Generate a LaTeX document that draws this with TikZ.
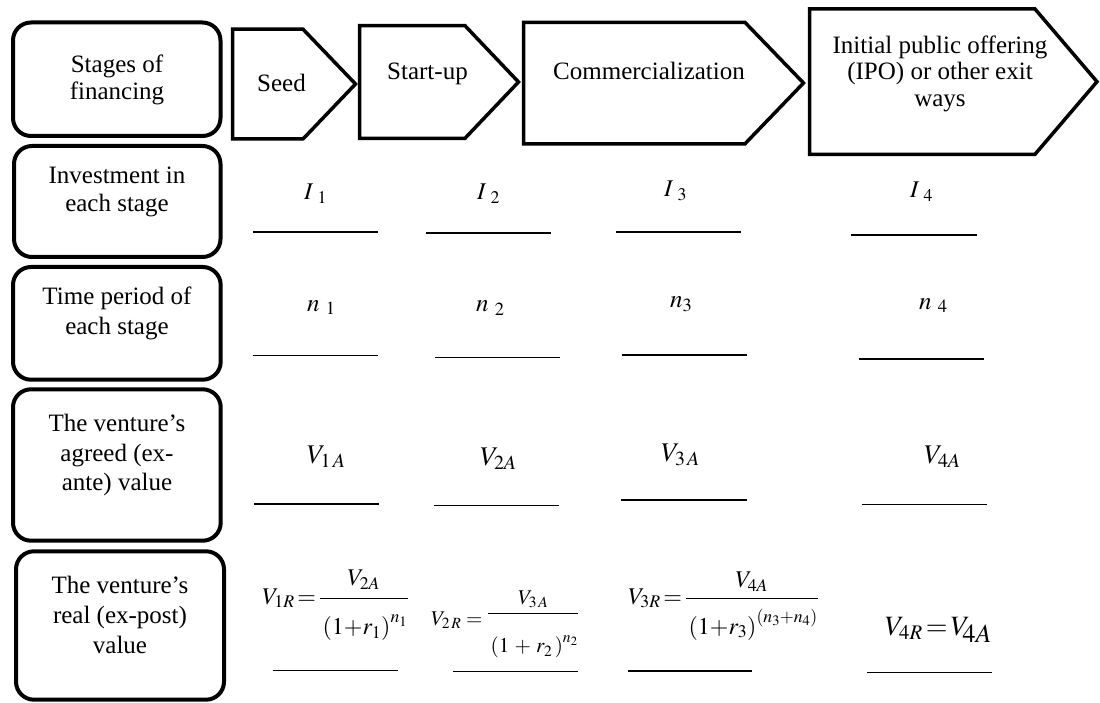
\documentclass[tikz,border=0pt]{standalone}
\usepackage{mathptmx}
\usepackage{fontspec}
\setmainfont{Liberation Serif}
\newcommand{\mlines}[3]{{\fontsize{#1}{#2}\selectfont\begin{tabular}[t]{@{}c@{}}#3\end{tabular}}}
\newcommand{\fsz}[1]{\fontsize{#1}{#1}\selectfont}
\newcommand{\bpar}[2]{\left(\vcenter to #1{}#2\right)}
\begin{document}
\begin{tikzpicture}[x=1pt,y=-1pt,
  lbox/.style={line width=4pt, rounded corners=18pt},
  stagearrow/.style={line width=3.5pt, line join=miter},
  uline/.style={line width=1.3pt},
  lab/.style={inner sep=0pt, anchor=base},
  stxt/.style={inner sep=0pt, anchor=base west, font=\fsz{25}},
  mth/.style={inner sep=0pt, anchor=base west}]
\useasboundingbox (0,0) rectangle (1100,703);

% left rounded boxes
\draw[lbox] (13,22.5) rectangle (220.5,136);
\draw[lbox] (14,146) rectangle (220.5,257);
\draw[lbox] (13,267) rectangle (220.7,379.7);
\draw[lbox] (13,389.3) rectangle (220.7,540.7);
\draw[lbox] (16,551.3) rectangle (224,699.7);

\node[lab] (lab1) at (117,72.7) {\mlines{25}{27.3}{Stages of\\financing}};
\node[lab] (lab2) at (117,184) {\mlines{25}{28}{Investment in\\each stage}};
\node[lab] (lab3) at (117,304.3) {\mlines{25}{30.7}{Time period of\\each stage}};
\node[lab] (lab4) at (117,431.7) {\mlines{25}{29.5}{The venture’s\\agreed (ex-\\ante) value}};
\node[lab] (lab5) at (120,593.3) {\mlines{25}{30}{The venture’s\\real (ex-post)\\value}};

% stage arrows
\draw[stagearrow] (232.5,29.2) -- (303,29.2) -- (355.5,84) -- (303,139) -- (232.5,139) -- cycle;
\draw[stagearrow] (359.7,25.7) -- (465,25.7) -- (518.5,82) -- (465,138.3) -- (359.7,138.3) -- cycle;
\draw[stagearrow] (523.7,22.4) -- (745,22.4) -- (803.5,83) -- (745,143.8) -- (523.7,143.8) -- cycle;
\draw[stagearrow] (809.7,9) -- (1035,9) -- (1097,81.7) -- (1035,154.3) -- (809.7,154.3) -- cycle;

\node[stxt] (seed) at (257,91.7) {Seed};
\node[stxt] (startup) at (387,80) {Start-up};
\node[stxt] (comm) at (553,80) {Commercialization};
\node[lab] (ipo) at (940,53.3) {\mlines{25}{26.7}{Initial public offering\\(IPO) or other exit\\ways}};

% row 2: investments
\node[mth] (i1) at (304,200) {\fsz{24}$I_{\;\,1}$};
\node[mth] (i2) at (477,200) {\fsz{24}$I_{\;\,2}$};
\node[mth] (i3) at (664,197) {\fsz{24}$I_{\;\,3}$};
\node[mth] (i4) at (910,198) {\fsz{24}$I_{\;\,4}$};
\draw[uline] (253,232) -- (378,232);
\draw[uline] (426,233) -- (551,233);
\draw[uline] (616,232) -- (741,232);
\draw[uline] (851,235) -- (977,235);

% row 3: periods
\node[mth] (n1) at (307,311) {\fsz{25}$n_{\;\,1}$};
\node[mth] (n2) at (476,312) {\fsz{25}$n_{\;\,2}$};
\node[mth] (n3) at (670,308) {\fsz{25}$n_3$};
\node[mth] (n4) at (919,309) {\fsz{25}$n_{\;\,4}$};
\draw[uline] (252.7,355.3) -- (377.7,355.3);
\draw[uline] (435.3,357.3) -- (560.3,357.3);
\draw[uline] (621.7,355) -- (746.7,355);
\draw[uline] (859,359) -- (984,359);

% row 4: agreed values
\node[mth] (v1a) at (306.7,463.3) {\fsz{27}$V_{1\,A}$};
\node[mth] (v2a) at (480,465) {\fsz{27}$V_{2A}$};
\node[mth] (v3a) at (661,461) {\fsz{27}$V_{3\,A}$};
\node[mth] (v4a) at (924,463.3) {\fsz{27}$V_{4A}$};
\draw[uline] (254,504) -- (379.3,504);
\draw[uline] (433.7,505.7) -- (558.7,505.7);
\draw[uline] (621,500) -- (746.7,500);
\draw[uline] (861.7,504.3) -- (986.7,504.3);

% row 5: real values
\node[mth] (v1r) at (262,604.3) {\fsz{24}$\displaystyle V_{1R}\!=\!\frac{V_{2A}\rule[-9pt]{0pt}{9pt}}{\rule{0pt}{33pt}\bpar{26pt}{1{+}r_1}^{n_1}}$};
\node[mth] (v2r) at (431,625.3) {\fsz{21}$V_{2\,R}=\raisebox{7pt}{$\displaystyle\frac{V_{3\,A}}{\rule{0pt}{37pt}\bpar{22pt}{1\,+\,r_2\,}^{n_2}}$}$};
\node[mth] (v3r) at (628,604) {\fsz{24}$\displaystyle V_{3R}\!=\!\frac{V_{4A}}{\rule{0pt}{33pt}\bpar{26pt}{1{+}r_3}^{(n_3{+}n_4)}}$};
\node[mth] (v4r) at (884.7,635) {\fsz{28}$V_{4R}\!=\!V_{\!\mbox{\fsz{26}$4A$}}$};
\draw[uline] (272.7,670.7) -- (397.7,670.7);
\draw[uline] (453.3,671.7) -- (577.7,671.7);
\draw[uline] (628.3,671) -- (752.3,671);
\draw[uline] (867.3,672.7) -- (992.3,672.7);
\end{tikzpicture}
\end{document}
